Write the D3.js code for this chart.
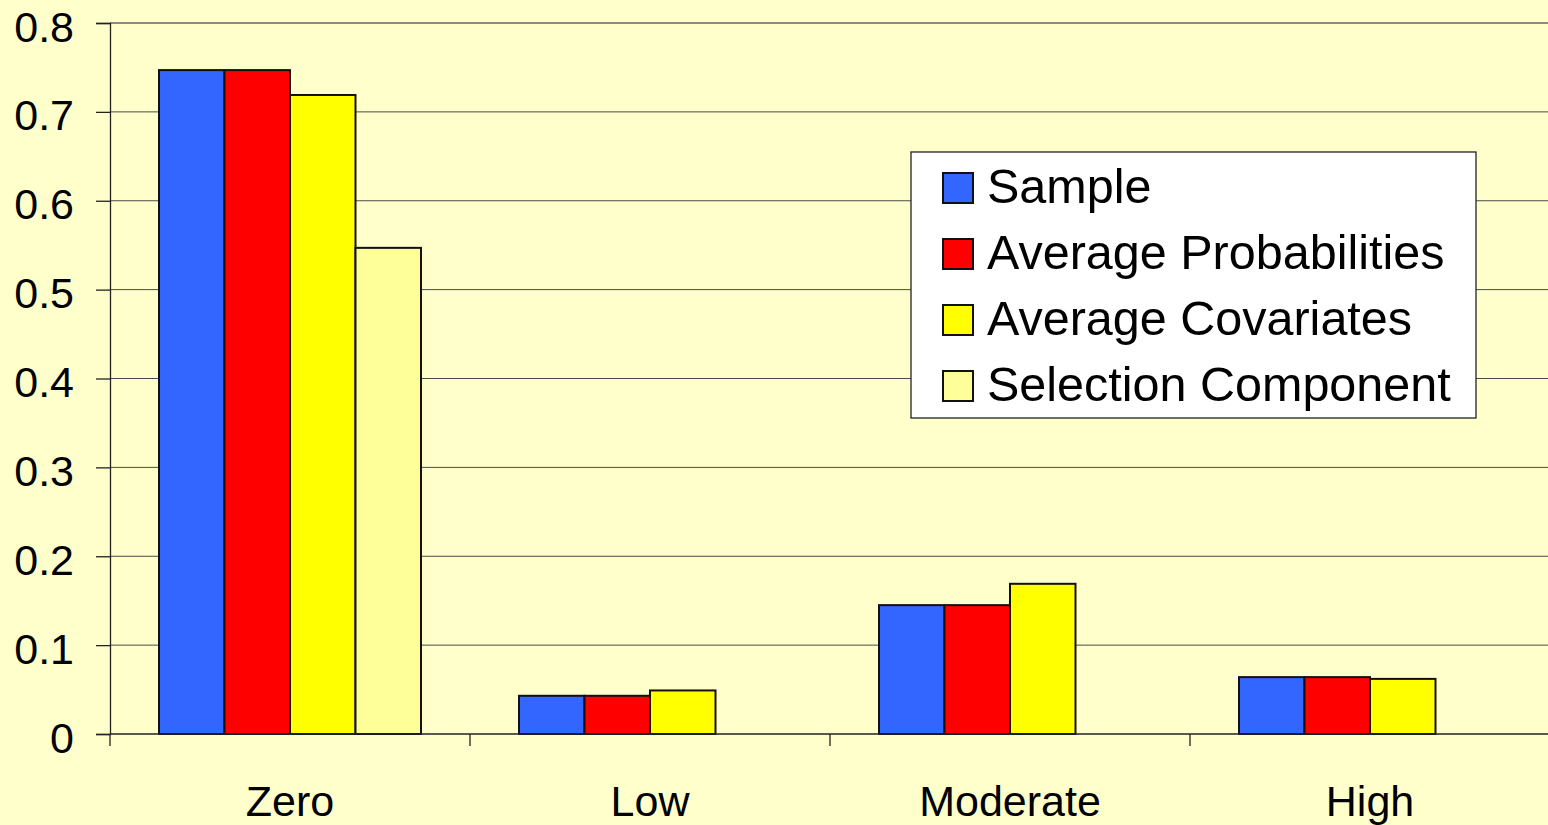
<!DOCTYPE html>
<html>
<head>
<meta charset="utf-8">
<script src="https://cdn.jsdelivr.net/npm/d3@7"></script>
<style>
  html, body { margin: 0; padding: 0; background: #FFFFCC; }
  svg { display: block; font-family: "Liberation Sans", Arial, sans-serif; }
</style>
</head>
<body>
<svg id="chart" width="1548" height="825"></svg>
<script>
// Share of observations in each category, by decomposition series
const categories = ["Zero", "Low", "Moderate", "High"];
const seriesNames = ["Sample", "Average Probabilities", "Average Covariates", "Selection Component"];
const sampleValues      = [0.747, 0.043, 0.145, 0.064];
const avgProbValues     = [0.747, 0.043, 0.145, 0.064];
const avgCovValues      = [0.719, 0.049, 0.169, 0.062];
const selectionValues   = [0.547, null, null, null];
const seriesColors = ["#3366FF", "#FF0000", "#FFFF00", "#FFFF99"];
const yTicks = [0, 0.1, 0.2, 0.3, 0.4, 0.5, 0.6, 0.7, 0.8];

const seriesValues = [sampleValues, avgProbValues, avgCovValues, selectionValues];

const svg = d3.select("#chart");
const margin = { left: 110, right: 0, top: 23, bottom: 91 };
const W = 1548, H = 825;
const plotW = 1440, plotH = H - margin.top - margin.bottom;

const x = d3.scaleBand().domain(categories).range([margin.left, margin.left + plotW])
  .paddingInner(0).paddingOuter(0);
const groupPad = 49;
const xs = d3.scaleBand().domain(seriesNames).range([groupPad, x.bandwidth() - groupPad]).padding(0);
const y = d3.scaleLinear().domain([0, 0.8]).range([margin.top + plotH, margin.top]);

// Horizontal gridlines
svg.append("g").selectAll("line").data(yTicks.filter(d => d > 0)).join("line")
  .attr("x1", margin.left).attr("x2", W)
  .attr("y1", d => y(d)).attr("y2", d => y(d))
  .attr("stroke", d => d === 0.8 ? "#8a8a8a" : "#4a4a4a")
  .attr("stroke-width", d => d === 0.8 ? 2 : 1);

// Bars
const groups = svg.append("g").selectAll("g").data(categories).join("g")
  .attr("transform", d => `translate(${x(d)},0)`);
groups.selectAll("rect")
  .data((c, i) => seriesNames.map((s, k) => ({ s, k, v: seriesValues[k][i] })).filter(d => d.v != null))
  .join("rect")
  .attr("x", d => xs(d.s))
  .attr("width", xs.bandwidth())
  .attr("y", d => y(d.v))
  .attr("height", d => y(0) - y(d.v))
  .attr("fill", d => seriesColors[d.k])
  .attr("stroke", "#111")
  .attr("stroke-width", 2);

// Y axis
const yAxis = svg.append("g").attr("transform", `translate(${margin.left},0)`)
  .call(d3.axisLeft(y).tickValues(yTicks).tickFormat(d => d === 0 ? "0" : d3.format(".1f")(d))
    .tickSize(14).tickPadding(22));
yAxis.select(".domain").attr("stroke", "#222").attr("stroke-width", 1.3);
yAxis.selectAll(".tick line").attr("stroke", "#222").attr("stroke-width", 1.3);
yAxis.selectAll(".tick text").attr("font-size", 43).attr("fill", "#000")
  .attr("font-family", "Liberation Sans, Arial, sans-serif").attr("dy", "0.42em");

// X axis
const xAxis = svg.append("g").attr("transform", `translate(0,${y(0)})`)
  .call(d3.axisBottom(x).tickSize(0).tickPadding(51));
xAxis.select(".domain").remove();
xAxis.append("line").attr("x1", margin.left).attr("x2", W).attr("y1", 0).attr("y2", 0)
  .attr("stroke", "#222").attr("stroke-width", 1.3);
xAxis.selectAll(".tick text").attr("font-size", 43).attr("fill", "#000")
  .attr("font-family", "Liberation Sans, Arial, sans-serif");
xAxis.append("g").selectAll("line").data(categories).join("line")
  .attr("x1", d => x(d)).attr("x2", d => x(d)).attr("y1", 0).attr("y2", 12)
  .attr("stroke", "#222").attr("stroke-width", 1.3);

// Legend
const legend = svg.append("g").attr("transform", "translate(911,152)");
legend.append("rect").attr("width", 565).attr("height", 266)
  .attr("fill", "#fff").attr("stroke", "#222").attr("stroke-width", 1.3);
const items = legend.selectAll("g.item").data(seriesNames).join("g").attr("class", "item")
  .attr("transform", (d, i) => `translate(0,${36 + i * 66})`);
items.append("rect").attr("x", 32).attr("y", -15).attr("width", 30).attr("height", 30)
  .attr("fill", (d, i) => seriesColors[i]).attr("stroke", "#111").attr("stroke-width", 2);
items.append("text").attr("x", 76).attr("y", -2).attr("dy", "0.34em")
  .attr("font-size", 48.5).attr("fill", "#000").text(d => d);
</script>
</body>
</html>
